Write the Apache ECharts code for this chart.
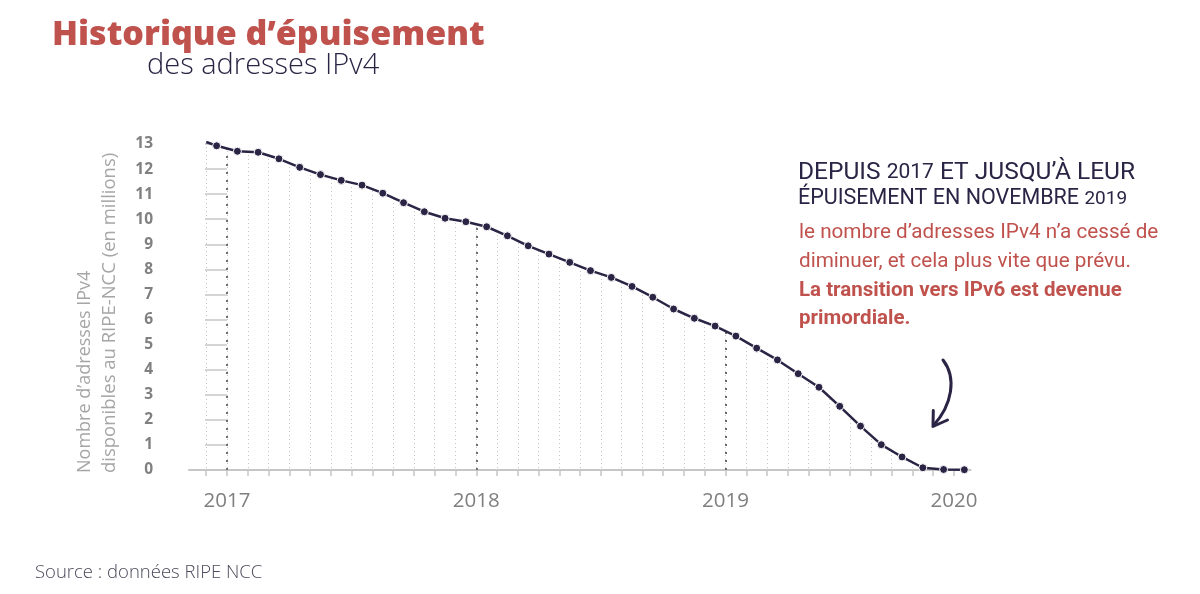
<!DOCTYPE html>
<html>
<head>
<meta charset="utf-8">
<script src="https://cdn.jsdelivr.net/npm/echarts@6/dist/echarts.min.js"></script>
<style>
html,body{margin:0;padding:0;background:#fff;}
#chart{width:1200px;height:594px;}
</style>
</head>
<body>
<div id="chart"></div>
<script>
// ---- data ----
const months = ['2016-12','2017-01','2017-02','2017-03','2017-04','2017-05','2017-06','2017-07','2017-08','2017-09','2017-10','2017-11','2017-12',
  '2018-01','2018-02','2018-03','2018-04','2018-05','2018-06','2018-07','2018-08','2018-09','2018-10','2018-11','2018-12',
  '2019-01','2019-02','2019-03','2019-04','2019-05','2019-06','2019-07','2019-08','2019-09','2019-10','2019-11','2019-12'];
const values = [12.93,12.71,12.67,12.41,12.07,11.78,11.55,11.36,11.04,10.66,10.30,10.04,9.90,
  9.70,9.34,8.94,8.61,8.28,7.95,7.68,7.32,6.89,6.42,6.05,5.74,
  5.34,4.86,4.39,3.84,3.30,2.54,1.75,1.01,0.52,0.09,0.02,0.01];
const startValue = 13.08; // line start (end of Nov 2016), drawn without a dot
const yTicks = [1,2,3,4,5,6,7,8,9,10,11,12,13];
const yLabels = [0,1,2,3,4,5,6,7,8,9,10,11,12,13];
const monthTicks = [-1,0,1,2,3,4,5,6,7,8,9,10,11,12,13,14,15,16,17,18,19,20,21,22,23,24,25,26,27,28,29,30,31,32,33,34,35];
const yearTicks = [0,12,24,35];
const yearLabels = ['2017','2018','2019','2020'];
const yearLines = [0,12,24];

// month index relative to Jan 2017, placed at mid-month
function monthPos(s){ const p = s.split('-'); return (parseInt(p[0])-2017)*12 + (parseInt(p[1])-1) + 0.5; }
const seriesData = [{value:[-1, startValue], symbol:'none'}].concat(months.map((m,i)=>[monthPos(m), values[i]]));

const RED = '#c0524e', NAVY = '#2b2445';
const chart = echarts.init(document.getElementById('chart'));
chart.setOption({
  animation:false,
  backgroundColor:'#fff',
  grid:{left:189, right:229.4, top:139, bottom:124},
  xAxis:{
    type:'value', min:-1.83, max:35.8,
    axisLine:{show:true, lineStyle:{color:'#c6c6c6', width:2}},
    axisTick:{show:true, length:6, customValues:monthTicks, lineStyle:{color:'#c6c6c6', width:1.5}},
    splitLine:{show:true, lineStyle:{color:'#c4c4c4', width:1, type:[1,3]}},
    axisLabel:{customValues:yearTicks, margin:21, color:'#7f7f7f', fontFamily:'Open Sans', fontSize:20.5,
      formatter:function(v){ const k = yearTicks.indexOf(v); return k>=0 ? yearLabels[k] : ''; }}
  },
  yAxis:{
    type:'value', min:0, max:13.2, offset:4,
    axisLine:{show:false},
    axisTick:{show:true, length:22, customValues:yTicks, lineStyle:{color:'#c8c8c8', width:1.5}},
    splitLine:{show:false},
    axisLabel:{customValues:yLabels, margin:32, color:'#808080', fontFamily:'Open Sans', fontWeight:700, fontSize:15.5}
  },
  graphic:[
    {type:'text', z:100, x:52, y:35, style:{text:'Historique d\u2019épuisement', fill:RED, font:'800 34px "Open Sans"', verticalAlign:'middle'}},
    {type:'text', z:100, x:147, y:66, style:{text:'des adresses IPv4', fill:NAVY, font:'300 29px "Open Sans"', verticalAlign:'middle'}},
    {type:'text', z:100, x:84.5, y:473, rotation:Math.PI/2, style:{text:'Nombre d\u2019adresses IPv4', fill:'#a6a6a6', font:'18px "Open Sans"', align:'left', verticalAlign:'middle'}},
    {type:'text', z:100, x:109.5, y:473, rotation:Math.PI/2, style:{text:'disponibles au RIPE-NCC (en millions)', fill:'#a6a6a6', font:'18.5px "Open Sans"', align:'left', verticalAlign:'middle'}},
    {type:'text', z:100, x:798, y:172.5, style:{text:'DEPUIS {n|2017} ET JUSQU\u2019À LEUR', fill:NAVY, font:'24.5px Roboto', verticalAlign:'middle',
      rich:{n:{fill:NAVY, font:'21px Roboto', verticalAlign:'middle'}}}},
    {type:'text', z:100, x:798, y:199, style:{text:'ÉPUISEMENT EN NOVEMBRE {n|2019}', fill:NAVY, font:'21.5px Roboto', verticalAlign:'middle',
      rich:{n:{fill:NAVY, font:'19px Roboto', verticalAlign:'middle'}}}},
    {type:'text', z:100, x:799, y:233, style:{text:'le nombre d\u2019adresses IPv4 n\u2019a cessé de', fill:RED, font:'20.7px Roboto', verticalAlign:'middle'}},
    {type:'text', z:100, x:799, y:262, style:{text:'diminuer, et cela plus vite que prévu.', fill:RED, font:'20.7px Roboto', verticalAlign:'middle'}},
    {type:'text', z:100, x:799, y:290.5, style:{text:'La transition vers IPv6 est devenue', fill:RED, font:'bold 20.5px Roboto', verticalAlign:'middle'}},
    {type:'text', z:100, x:799, y:319, style:{text:'primordiale.', fill:RED, font:'bold 20.5px Roboto', verticalAlign:'middle'}},
    {type:'bezierCurve', z:100, shape:{x1:943, y1:360, cpx1:957, cpy1:378, cpx2:952, cpy2:405, x2:933.5, y2:425.5}, style:{stroke:NAVY, lineWidth:3, fill:null, lineCap:'round'}},
    {type:'polyline', z:100, shape:{points:[[933.3,410.5],[933,426.5],[947.5,420]]}, style:{stroke:NAVY, lineWidth:3, fill:null, lineCap:'round', lineJoin:'round'}},
    {type:'text', z:100, x:35, y:572.6, style:{text:'Source : données RIPE NCC', fill:'#4a4a5a', font:'300 18.5px "Open Sans"', verticalAlign:'middle'}}
  ],
  series:[{
    type:'line', data:seriesData, z:3, silent:true,
    symbol:'circle', symbolSize:8, showAllSymbol:true,
    itemStyle:{color:NAVY, borderColor:'#fff', borderWidth:1},
    lineStyle:{color:NAVY, width:2.5},
    areaStyle:{origin:'end', color:'#fff', opacity:1},
    emphasis:{disabled:true},
    markLine:{silent:true, symbol:'none', z:1, label:{show:false},
      lineStyle:{color:'#6e6e6e', type:[2,6], width:2},
      data:yearLines.map(v=>({xAxis:v}))}
  }]
});
</script>
</body>
</html>
